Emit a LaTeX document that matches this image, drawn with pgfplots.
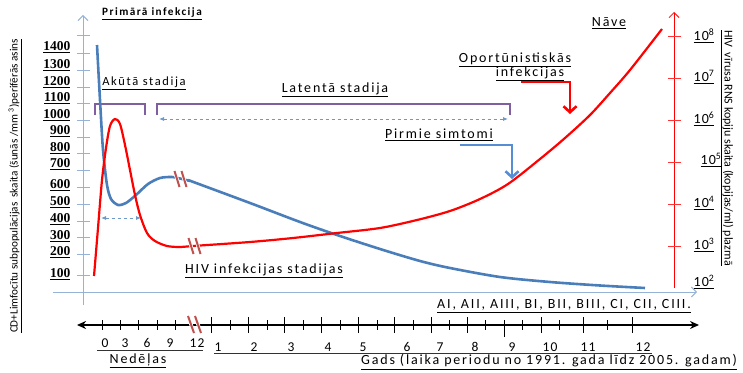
\documentclass[border=0pt]{standalone}
\usepackage{fontspec}
\setmainfont{Carlito}
\newfontfamily\wide[LetterSpace=8]{Carlito}
\newfontfamily\wider[LetterSpace=13]{Carlito}
\newfontfamily\numf{Liberation Serif}
\usepackage{pgfplots}
\pgfplotsset{compat=1.18}
\usetikzlibrary{arrows.meta}
\definecolor{cdblue}{HTML}{4A7EBB}
\definecolor{axblue}{HTML}{95B3D7}
\definecolor{vred}{HTML}{FF0000}
\definecolor{purp}{HTML}{7F5F9F}
\definecolor{brk}{HTML}{C0504D}
\definecolor{arrblue}{HTML}{558ED5}
\definecolor{txt}{HTML}{333333}
\begin{document}
\begin{tikzpicture}
\begin{axis}[x=1pt, y=1pt, xmin=0, xmax=743, ymin=0, ymax=371, y dir=reverse,
  hide axis, clip=false, scale only axis,
  every node/.style={text=txt, inner sep=0pt}]
\addplot[draw=none] coordinates {(0,0) (743,371)};
% ---- axes ----
\addplot[axblue, line width=0.9pt, -{Straight Barb[length=5pt,width=10pt]}] coordinates {(83,305) (83,15)};
\addplot[axblue, line width=0.9pt, -{Straight Barb[length=5pt,width=10pt]}] coordinates {(53,292) (697,292)};
\addplot[vred, line width=0.8pt, -{Straight Barb[length=5pt,width=10pt]}] coordinates {(674,288) (674,12)};
\pgfplotsinvokeforeach{35,53,70,87,103,120,137,153,170,187,204,221,237,254,275}{
  \addplot[axblue, line width=0.9pt] coordinates {(77,#1) (90,#1)};}
\pgfplotsinvokeforeach{36,78,120,162,204,246}{
  \addplot[vred!80, line width=0.8pt] coordinates {(668,#1) (681,#1)};}
% left tick labels
\begin{scope}[every node/.append style={anchor=east, font=\numf\bfseries\fontsize{13.5}{14}\selectfont}]
\node at (axis cs:74,47) {\underline{1400}};
\node at (axis cs:74,65) {\underline{1300}};
\node at (axis cs:74,82) {\underline{1200}};
\node at (axis cs:74,98) {\underline{1100}};
\node at (axis cs:74,115) {\underline{1000}};
\node at (axis cs:74,131) {\underline{900}};
\node at (axis cs:74,148) {\underline{800}};
\node at (axis cs:74,164) {\underline{700}};
\node at (axis cs:74,185) {\underline{600}};
\node at (axis cs:74,202) {\underline{500}};
\node at (axis cs:74,219) {\underline{400}};
\node at (axis cs:74,236) {\underline{300}};
\node at (axis cs:74,252) {\underline{200}};
\node at (axis cs:74,274) {\underline{100}};
\end{scope}
% right tick labels
\begin{scope}[every node/.append style={anchor=west, font=\wide\fontsize{14}{14}\selectfont}]
\node at (axis cs:690,36) {\underline{10\textsuperscript{8}}};
\node at (axis cs:690,77) {\underline{10\textsuperscript{7}}};
\node at (axis cs:690,119) {\underline{10\textsuperscript{6}}};
\node at (axis cs:697,160) {\underline{10\textsuperscript{5}}};
\node at (axis cs:690,203) {\underline{10\textsuperscript{4}}};
\node at (axis cs:690,245) {\underline{10\textsuperscript{3}}};
\node at (axis cs:690,282) {\underline{10\textsuperscript{2}}};
\end{scope}
% axis titles
\node[rotate=90, font=\fontsize{11.2}{11}\selectfont] at (axis cs:15,186) {\underline{CD+Limfocītu subpopulācijas\ \ skaita (šunās /mm \textsuperscript{3})perifērās asins}};
\node[rotate=-90, font=\fontsize{12}{12}\selectfont] at (axis cs:727,148) {\underline{HIV\ \ vīrusa RNS kopiju skaita (kopijas/ml) plazmā}};
% ---- brackets ----
\addplot[purp, line width=1.8pt] coordinates {(95,115) (95,104) (145,104) (145,115)};
\addplot[purp, line width=1.8pt] coordinates {(157,115) (157,104) (510,104) (510,115)};
% dashed double arrows
\addplot[cdblue!80, line width=0.8pt, dashed, {Latex[length=5pt,width=4pt]}-{Latex[length=5pt,width=4pt]}] coordinates {(159,119) (508,119)};
\addplot[cdblue!80, line width=0.8pt, dashed, {Latex[length=5pt,width=4pt]}-{Latex[length=5pt,width=4pt]}] coordinates {(101,218) (141,218)};
% ---- curves ----
\addplot[cdblue, line width=2.6pt, smooth, tension=0.45] coordinates {
(97,45) (100,100) (103,150) (107,185) (111,199) (118,205) (126,203) (136,195) (148,184) (160,178) (172,177) (182,179) (190,181)};
\addplot[cdblue, line width=2.6pt, smooth, tension=0.5] coordinates {
(188,180) (250,203) (300,222) (337,235) (380,249) (420,261) (450,268) (500,277) (550,282) (600,285.5) (645,288)};
\addplot[vred, line width=2.2pt, smooth, tension=0.5] coordinates {
(94,276) (98,228) (102,180) (106,148) (110,126) (115,119) (120,124) (125,145) (130,170) (135,195) (140,215) (147,233) (155,241) (167,246) (180,247) (193,246) (250,242) (293,238) (337,233) (380,228) (417,220) (450,211) (480,199) (508,184) (540,159) (565,138) (590,115) (610,93) (630,70) (662,29)};
% break marks
\pgfplotsinvokeforeach{177,184}{
  \addplot[white, line width=3.5pt] coordinates {(#1-2.5,171) (#1+2.5,187)};
  \addplot[brk, line width=2pt] coordinates {(#1-2.5,171) (#1+2.5,187)};}
\pgfplotsinvokeforeach{191,198}{
  \addplot[white, line width=3.5pt] coordinates {(#1-2.5,238) (#1+2.5,254)};
  \addplot[brk, line width=2pt] coordinates {(#1-2.5,238) (#1+2.5,254)};}
% ---- callout arrows ----
\addplot[arrblue, line width=2.6pt, -{Straight Barb[length=6pt,width=13pt]}] coordinates {(460,145) (512,145) (512,179)};
\addplot[vred, line width=2.6pt, -{Straight Barb[length=6pt,width=13pt]}] coordinates {(521,82) (570,82) (570,114)};
% ---- timeline ----
\addplot[black, line width=1.8pt, {Stealth[length=9pt,width=8pt]}-{Stealth[length=9pt,width=8pt]}] coordinates {(77,325) (699,325)};
\pgfplotsinvokeforeach{102,120,138,157,175,230,267,303,340,377,413,449,485,522,559,607}{
  \addplot[black, line width=0.8pt] coordinates {(#1,320) (#1,330)};}
\pgfplotsinvokeforeach{211,248,284,321,358,394,431,467,541,583,632}{
  \addplot[black, line width=0.8pt] coordinates {(#1,317) (#1,333)};}
\addplot[black, line width=0.8pt] coordinates {(504,320) (504,337)};
\pgfplotsinvokeforeach{191,198}{
  \addplot[white, line width=3.5pt] coordinates {(#1-3,316) (#1+3,333)};
  \addplot[brk, line width=2pt] coordinates {(#1-3,316) (#1+3,333)};}
\begin{scope}[every node/.append style={font=\wide\fontsize{13.5}{13}\selectfont}]
\node at (axis cs:105,343) {0};
\node at (axis cs:125,343) {3};
\node at (axis cs:147,343) {6};
\node at (axis cs:170,343) {9};
\node at (axis cs:197,343) {12};
\node at (axis cs:218,347) {1};
\node at (axis cs:254,347) {2};
\node at (axis cs:291,347) {3};
\node at (axis cs:328,347) {4};
\node at (axis cs:363,347) {5};
\node at (axis cs:407,347) {6};
\node at (axis cs:440,347) {7};
\node at (axis cs:475,347) {8};
\node at (axis cs:512,347) {9};
\node at (axis cs:550,347) {10};
\node at (axis cs:588,347) {11};
\node at (axis cs:643,347) {12};
\end{scope}
\addplot[txt, line width=0.6pt] coordinates {(97,350) (203,350)};
\addplot[txt, line width=0.6pt] coordinates {(214,353) (652,353)};
% ---- text labels ----
\begin{scope}[every node/.append style={font=\wider\fontsize{14}{14}\selectfont}]
\node at (axis cs:138,361) {\underline{Nedēļas}};
\node at (axis cs:549,362) {\underline{Gads (laika periodu\ no 1991. gada līdz 2005. gadam)}};
\node at (axis cs:564,306) {\underline{AI, AII, AIII, BI, BII, BIII, CI, CII, CIII.}};
\node at (axis cs:264,271) {\underline{HIV infekcijas stadijas}};
\node at (axis cs:335,90) {\underline{Latentā stadija}};
\node at (axis cs:439,135) {\underline{Pirmie simtomi}};
\node at (axis cs:515,60) {\underline{Oportūnistiskās}};
\node at (axis cs:530,74) {\underline{infekcijas}};
\node at (axis cs:609,23) {\underline{Nāve}};
\node[font=\wider\fontsize{12.5}{12}\selectfont] at (axis cs:144,83) {\underline{Akūtā stadija}};
\node[font=\wider\bfseries\fontsize{11.2}{11}\selectfont] at (axis cs:152,14) {\underline{Primārā infekcija}};
\end{scope}
\end{axis}
\end{tikzpicture}
\end{document}
